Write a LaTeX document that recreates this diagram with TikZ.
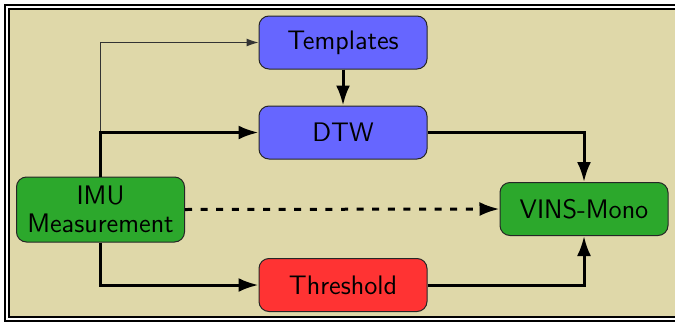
\documentclass[tikz,border=0pt]{standalone}
\usetikzlibrary{arrows.meta}
\definecolor{framebg}{HTML}{DFD8A9}
\definecolor{boxblue}{HTML}{6666FF}
\definecolor{boxgreen}{HTML}{2CA82C}
\definecolor{boxred}{HTML}{FF3333}

\begin{document}
\begin{tikzpicture}[x=0.5pt, y=-0.5pt, >=Latex,
    block/.style={draw=black!85, line width=0.5pt, rounded corners=5pt, minimum width=84pt, minimum height=26.5pt, inner sep=0pt, font=\sffamily\fontsize{13.4}{14}\selectfont, align=center},
    flow/.style={line width=1.5pt, -{Latex[length=10pt, width=7pt]}},
    thinflow/.style={line width=0.5pt, draw=black!80, -{Latex[length=6pt, width=4pt]}}]

    \useasboundingbox (0,0) rectangle (675,322);

    % background and double frame (right side runs off the page)
    \fill[framebg] (7,7) rectangle (700,319);
    \draw[line width=1pt, double=white, double distance=1pt] (7,7) rectangle (700,319);

    \node[block, fill=boxblue] (templates) at (343,42.5) {Templates};
    \node[block, fill=boxblue] (dtw) at (343,132.5) {DTW};
    \node[block, fill=boxgreen, minimum height=32.5pt] (imu) at (100.5,209.5) {IMU\\Measurement};
    \node[block, fill=boxgreen] (vins) at (584,209) {VINS-Mono};
    \node[block, fill=boxred] (threshold) at (343,285) {Threshold};

    % thin link to the templates goes first, the thick one lies on top
    \draw[thinflow] (imu.north) |- (templates.west);
    \draw[flow] (imu.north) |- (dtw.west);
    \draw[flow] (templates) -- (dtw);
    \draw[flow] (dtw.east) -| (vins.north);
    \draw[flow] (imu.south) |- (threshold.west);
    \draw[flow] (threshold.east) -| (vins.south);

    % direct path, dashed
    \draw[flow, dash pattern=on 3.5pt off 4.3pt] (imu.east) -- (vins.west);

\end{tikzpicture}
\end{document}
